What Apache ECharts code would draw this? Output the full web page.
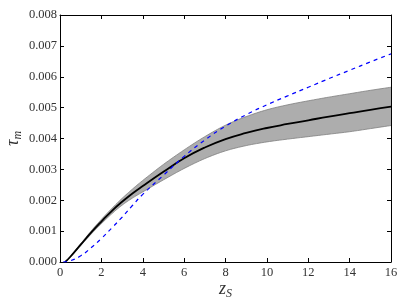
<!DOCTYPE html>
<html>
<head>
<meta charset="utf-8">
<script src="https://cdn.jsdelivr.net/npm/echarts@6/dist/echarts.min.js"></script>
<style>html,body{margin:0;padding:0;background:#fff;}#c{width:407px;height:305px;}</style>
</head>
<body>
<div id="c"></div>
<script>
// z_S sample points for the mean curve and its band
var zS = [0.25, 0.5, 1, 1.5, 2, 2.5, 3, 3.5, 4, 5, 6, 7, 8, 9, 10, 11, 12, 13, 14, 15, 16];
// mean tau_m (x 1e-3)
var tauMean = [0, 0.17, 0.56, 0.95, 1.31, 1.65, 1.95, 2.22, 2.46, 2.92, 3.36, 3.71, 3.98, 4.18, 4.34, 4.47, 4.59, 4.71, 4.82, 4.93, 5.03];
// band upper / lower (x 1e-3)
var tauUpper = [0, 0.18, 0.59, 1.0, 1.38, 1.73, 2.06, 2.36, 2.64, 3.16, 3.63, 4.06, 4.43, 4.71, 4.93, 5.09, 5.22, 5.34, 5.45, 5.56, 5.66];
var tauLower = [0, 0.16, 0.53, 0.9, 1.24, 1.56, 1.84, 2.07, 2.27, 2.66, 3.03, 3.35, 3.60, 3.77, 3.89, 3.98, 4.06, 4.14, 4.22, 4.32, 4.42];
// dashed model curve
var zModel = [0.15, 0.5, 1, 1.5, 2, 2.5, 3, 3.5, 4, 5, 6, 7, 8, 9, 10, 11, 12, 13, 14, 15, 16];
var tauModel = [0, 0.04, 0.2, 0.46, 0.76, 1.1, 1.45, 1.83, 2.19, 2.81, 3.42, 3.95, 4.40, 4.77, 5.09, 5.38, 5.66, 5.94, 6.21, 6.48, 6.74];
// axis ticks
var xTicks = [0, 2, 4, 6, 8, 10, 12, 14, 16];
var yTicks = [0, 0.001, 0.002, 0.003, 0.004, 0.005, 0.006, 0.007, 0.008];

var S = 1e-3;
function pairs(xs, ys) { return xs.map(function (x, i) { return [x, ys[i] * S]; }); }
var bandData = zS.map(function (x, i) { return [x, tauLower[i] * S, tauUpper[i] * S]; });

var font = 'Liberation Serif';
function axisCommon() {
  return {
    axisLine: { show: true, onZero: false, lineStyle: { color: '#000', width: 1 } },
    axisTick: { show: true, inside: true, length: 4, lineStyle: { color: '#000', width: 1 } },
    splitLine: { show: false }
  };
}
function xAxis(pos, labels) {
  return Object.assign({
    type: 'value', position: pos, min: xTicks[0], max: xTicks[xTicks.length - 1],
    interval: xTicks[1] - xTicks[0],
    axisLabel: { show: labels, margin: 4, color: '#333', fontFamily: font, fontSize: 12.5 }
  }, axisCommon());
}
function yAxis(pos, labels) {
  return Object.assign({
    type: 'value', position: pos, min: yTicks[0], max: yTicks[yTicks.length - 1],
    interval: yTicks[1] - yTicks[0],
    axisLabel: { show: labels, margin: 3, color: '#333', fontFamily: font, fontSize: 12.5,
      formatter: function (v) { return v.toFixed(3); } }
  }, axisCommon());
}
var xa0 = xAxis('bottom', true);
xa0.name = '{a|z}{b|S}';
xa0.nameLocation = 'middle';
xa0.nameGap = 16;
xa0.nameMoveOverlap = false;
xa0.nameTextStyle = { rich: {
  a: { fontFamily: font, fontStyle: 'italic', fontSize: 18, color: '#333' },
  b: { fontFamily: font, fontStyle: 'italic', fontSize: 12, color: '#333', padding: [10, 0, 0, 0] }
}};
var ya0 = yAxis('left', true);
ya0.name = '{a|τ}{b|m}';
ya0.nameLocation = 'middle';
ya0.nameRotate = 90;
ya0.nameGap = 36;
ya0.nameMoveOverlap = false;
ya0.nameTextStyle = { rich: {
  a: { fontFamily: font, fontStyle: 'italic', fontSize: 18, color: '#333' },
  b: { fontFamily: font, fontStyle: 'italic', fontSize: 12, color: '#333', padding: [10, 0, 0, 0] }
}};

// Catmull-Rom smoothing of a pixel polyline
function smoothPts(p) {
  var out = [];
  for (var i = 0; i < p.length - 1; i++) {
    var p0 = p[Math.max(i - 1, 0)], p1 = p[i], p2 = p[i + 1], p3 = p[Math.min(i + 2, p.length - 1)];
    for (var t = 0; t < 1; t += 0.125) {
      var t2 = t * t, t3 = t2 * t;
      out.push([
        0.5 * (2 * p1[0] + (-p0[0] + p2[0]) * t + (2 * p0[0] - 5 * p1[0] + 4 * p2[0] - p3[0]) * t2 + (-p0[0] + 3 * p1[0] - 3 * p2[0] + p3[0]) * t3),
        0.5 * (2 * p1[1] + (-p0[1] + p2[1]) * t + (2 * p0[1] - 5 * p1[1] + 4 * p2[1] - p3[1]) * t2 + (-p0[1] + 3 * p1[1] - 3 * p2[1] + p3[1]) * t3)
      ]);
    }
  }
  out.push(p[p.length - 1]);
  return out;
}

var chart = echarts.init(document.getElementById('c'), null, { renderer: 'canvas' });
chart.setOption({
  animation: false,
  backgroundColor: '#fff',
  grid: { left: 60, right: 16, top: 15, bottom: 43, containLabel: false, outerBoundsMode: 'none' },
  xAxis: [xa0, xAxis('top', false)],
  yAxis: [ya0, yAxis('right', false)],
  series: [
    { type: 'custom', data: bandData, z: 2,
      renderItem: function (params, api) {
        if (params.dataIndex !== 0) return null;
        var up = [], lo = [];
        for (var i = 0; i < bandData.length; i++) {
          up.push(api.coord([bandData[i][0], bandData[i][2]]));
          lo.push(api.coord([bandData[i][0], bandData[i][1]]));
        }
        var su = smoothPts(up), sl = smoothPts(lo);
        var poly = su.concat(sl.slice().reverse());
        return { type: 'group', children: [
          { type: 'polygon', shape: { points: poly }, style: { fill: '#adadad', stroke: null } },
          { type: 'polyline', shape: { points: su }, style: { stroke: '#7f7f7f', lineWidth: 0.8, fill: null } },
          { type: 'polyline', shape: { points: sl }, style: { stroke: '#7f7f7f', lineWidth: 0.8, fill: null } }
        ]};
      }
    },
    { type: 'line', data: pairs(zS, tauMean), symbol: 'none', smooth: true,
      lineStyle: { color: '#000', width: 1.8 }, z: 3 },
    { type: 'line', data: pairs(zModel, tauModel), symbol: 'none', smooth: true,
      lineStyle: { color: '#0000ff', width: 1.2, type: [4, 4] }, z: 4 }
  ]
});
</script>
</body>
</html>
